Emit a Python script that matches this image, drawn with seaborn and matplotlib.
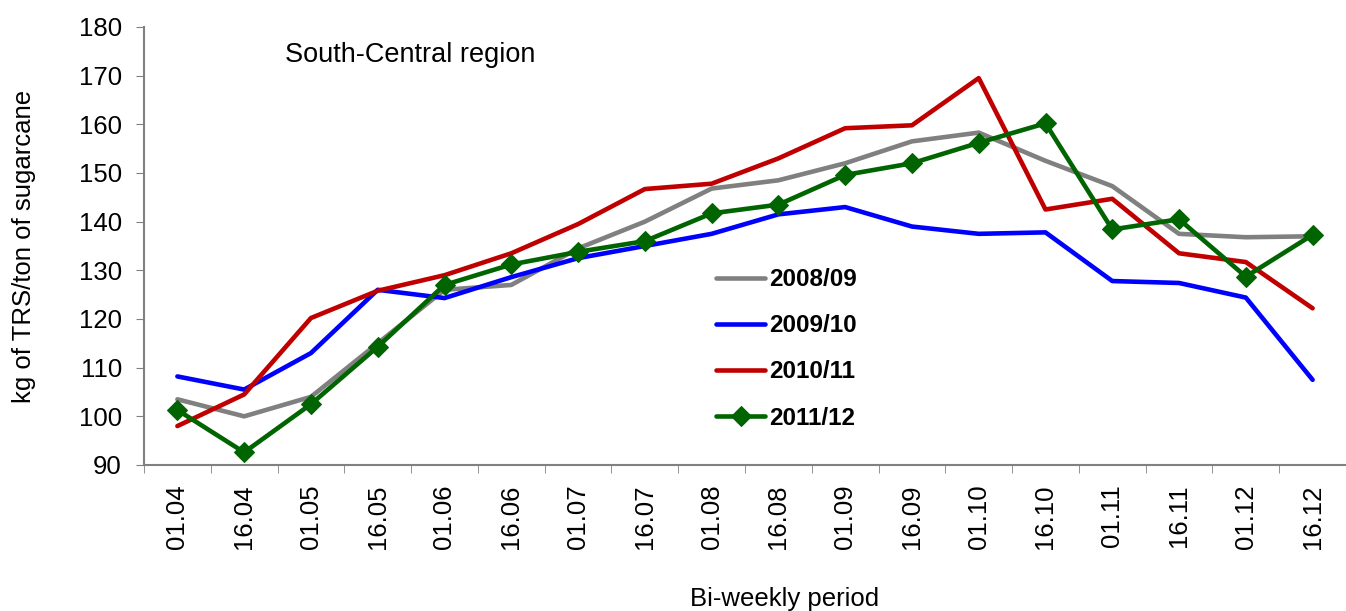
import numpy as np
import pandas as pd
import matplotlib
matplotlib.use("Agg")
import matplotlib.pyplot as plt
import seaborn as sns

periods = ["01.04", "16.04", "01.05", "16.05", "01.06", "16.06", "01.07", "16.07", "01.08",
           "16.08", "01.09", "16.09", "01.10", "16.10", "01.11", "16.11", "01.12", "16.12"]
s2008 = [103.5, 100.0, 104.0, 115.0, 126.0, 127.0, 134.5, 140.0, 146.8,
         148.5, 152.0, 156.5, 158.3, 152.5, 147.3, 137.5, 136.8, 137.0]
s2009 = [108.2, 105.5, 113.0, 126.0, 124.3, 128.6, 132.5, 135.0, 137.5,
         141.5, 143.0, 139.0, 137.5, 137.8, 127.8, 127.4, 124.4, 107.5]
s2010 = [98.0, 104.5, 120.2, 125.8, 129.0, 133.5, 139.5, 146.7, 147.8,
         153.0, 159.2, 159.8, 169.5, 142.5, 144.7, 133.5, 131.7, 122.2]
s2011 = [101.3, 92.6, 102.5, 114.3, 127.0, 131.2, 133.8, 136.0, 141.7,
         143.5, 149.6, 152.0, 156.2, 160.2, 138.4, 140.5, 128.7, 137.3]

seasons = ["2008/09", "2009/10", "2010/11", "2011/12"]
colors = ["#808080", "#0000FF", "#C00000", "#006400"]

sns.set_style("white")
plt.rcParams['font.family'] = ['Liberation Sans', 'DejaVu Sans']
plt.rcParams['text.color'] = 'black'
plt.rcParams['xtick.color'] = 'black'
plt.rcParams['ytick.color'] = 'black'
plt.rcParams['axes.labelcolor'] = 'black'

fig = plt.figure(figsize=(13.46, 6.11), dpi=100)
ax = fig.add_axes([144 / 1346, 1 - 465 / 611, 1 - 144 / 1346, (465 - 27) / 611])

pos = np.arange(len(periods))
for name, vals, col in zip(seasons, [s2008, s2009, s2010, s2011], colors):
    df = pd.DataFrame({"pos": pos, "val": vals})
    if name == "2011/12":
        sns.lineplot(data=df, x="pos", y="val", ax=ax, color=col, linewidth=3.3, label=name,
                     marker="D", markersize=10, markeredgecolor=col)
    else:
        sns.lineplot(data=df, x="pos", y="val", ax=ax, color=col, linewidth=3.3, label=name)

ax.set_xlim(-0.5, len(periods) - 0.5)
ax.set_ylim(90, 180)
ax.set_yticks(range(90, 181, 10))
ax.set_xticks(pos)
ax.set_xticklabels(periods, rotation=90, fontsize=18.5)
ax.set_xticks(np.arange(-0.5, len(periods), 1), minor=True)
ax.tick_params(axis="x", which="major", length=0, pad=14)
ax.tick_params(axis="x", which="minor", length=6, color="#808080", direction="out", bottom=True)
ax.tick_params(axis="y", length=6, color="#808080", direction="out", left=True,
               labelsize=18.5, pad=10)

for side in ["top", "right"]:
    ax.spines[side].set_visible(False)
for side in ["left", "bottom"]:
    ax.spines[side].set_color("#808080")
    ax.spines[side].set_linewidth(1.5)

ax.set_xlabel("Bi-weekly period", fontsize=18.5)
ax.xaxis.set_label_coords(0.533, -0.278)
ax.set_ylabel("kg of TRS/ton of sugarcane", fontsize=18.5)
ax.yaxis.set_label_coords(-0.09, 0.5)
ax.text(0.117, 0.935, "South-Central region", transform=ax.transAxes, fontsize=19.5,
        ha="left", va="center")

leg = ax.legend(loc="upper left", bbox_to_anchor=(0.458, 0.499), frameon=False,
                prop={"weight": "bold", "size": 17.5}, handlelength=2.0, labelspacing=0.95,
                handletextpad=0.15)

fig.savefig("out.png", dpi=100)
